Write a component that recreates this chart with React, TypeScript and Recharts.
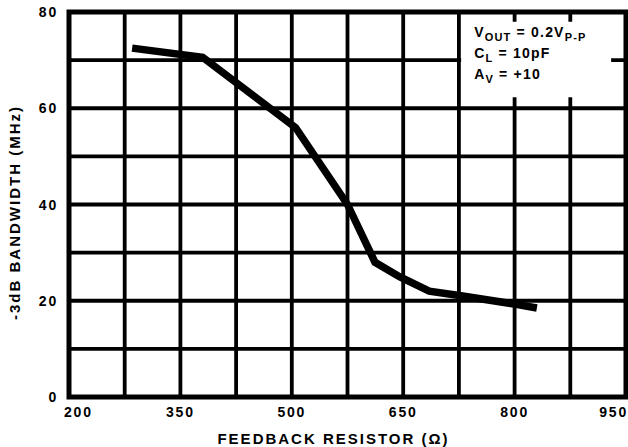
import React from 'react';
import {
  LineChart,
  Line,
  XAxis,
  YAxis,
  CartesianGrid,
  ReferenceArea,
} from 'recharts';

// Feedback resistor (Ω) vs -3dB bandwidth (MHz)
const resistance = [285, 380, 505, 575, 612, 645, 685, 730, 800, 830];
const bandwidth = [72.5, 70.6, 56, 40, 28, 25, 22, 21, 19.3, 18.5];

const xGridTicks = [200, 275, 350, 425, 500, 575, 650, 725, 800, 875, 950];
const xLabels = [200, 350, 500, 650, 800, 950];
const yGridTicks = [0, 10, 20, 30, 40, 50, 60, 70, 80];
const yLabels = [0, 20, 40, 60, 80];

const data = resistance.map((r, i) => ({ r, bw: bandwidth[i] }));

const FONT = '"Liberation Sans", Arial, Helvetica, sans-serif';

const XTick = (props: any) => {
  const { x, y, payload } = props;
  const v = payload.value;
  if (!xLabels.includes(v)) return null;
  let anchor: 'start' | 'middle' | 'end' = 'middle';
  let dx = 0;
  if (v === xLabels[0]) {
    anchor = 'start';
    dx = -5;
  } else if (v === xLabels[xLabels.length - 1]) {
    anchor = 'end';
    dx = 2;
  }
  return (
    <text
      x={x + dx}
      y={y}
      dy={12}
      textAnchor={anchor}
      fontFamily={FONT}
      fontWeight="bold"
      fontSize={14}
      letterSpacing={1.8}
      fill="#000"
    >
      {v}
    </text>
  );
};

const YTick = (props: any) => {
  const { x, y, payload } = props;
  const v = payload.value;
  if (!yLabels.includes(v)) return null;
  return (
    <text
      x={x - 3}
      y={y}
      dy={5}
      textAnchor="end"
      fontFamily={FONT}
      fontWeight="bold"
      fontSize={14}
      letterSpacing={1.8}
      fill="#000"
    >
      {v}
    </text>
  );
};

const XTitle = (props: any) => {
  const { viewBox } = props;
  const cx = viewBox.x + viewBox.width / 2 - 14;
  return (
    <text
      x={cx}
      y={444}
      textAnchor="middle"
      fontFamily={FONT}
      fontWeight="bold"
      fontSize={15}
      letterSpacing={2}
      fill="#000"
    >
      FEEDBACK RESISTOR (Ω)
    </text>
  );
};

const YTitle = (props: any) => {
  const { viewBox } = props;
  const cx = 20;
  const cy = viewBox.y + viewBox.height / 2 + 8;
  return (
    <text
      x={cx}
      y={cy}
      transform={`rotate(-90, ${cx}, ${cy})`}
      textAnchor="middle"
      fontFamily={FONT}
      fontWeight="bold"
      fontSize={15}
      letterSpacing={2}
      fill="#000"
    >
      -3dB BANDWIDTH (MHz)
    </text>
  );
};

const LegendText = (props: any) => {
  const { viewBox } = props;
  const x = viewBox.x + 13;
  const y = viewBox.y;
  const common = {
    fontFamily: FONT,
    fontWeight: 'bold' as const,
    fontSize: 14,
    letterSpacing: 1.2,
    fill: '#000',
  };
  return (
    <g>
      <text x={x} y={y + 15} {...common}>
        V
        <tspan fontSize={11} dy={4}>OUT</tspan>
        <tspan dy={-4}> = 0.2V</tspan>
        <tspan fontSize={11} dy={4}>P-P</tspan>
      </text>
      <text x={x} y={y + 36} {...common}>
        C
        <tspan fontSize={11} dy={4}>L</tspan>
        <tspan dy={-4}> = 10pF</tspan>
      </text>
      <text x={x} y={y + 57} {...common}>
        A
        <tspan fontSize={11} dy={4}>V</tspan>
        <tspan dy={-4}> = +10</tspan>
      </text>
    </g>
  );
};

export default function App() {
  return (
    <div style={{ position: 'absolute', left: 0, top: 0, background: '#fff' }}>
      <LineChart
        width={628}
        height={447}
        data={data}
        margin={{ top: 12, right: 2, bottom: 0, left: 0 }}
      >
        <CartesianGrid stroke="#000" strokeWidth={3.8} />
        <XAxis
          dataKey="r"
          type="number"
          domain={[200, 950]}
          ticks={xGridTicks}
          axisLine={false}
          tickLine={false}
          height={50}
          tick={<XTick />}
          interval={0}
          label={<XTitle />}
        />
        <YAxis
          type="number"
          domain={[0, 80]}
          ticks={yGridTicks}
          axisLine={false}
          tickLine={false}
          width={69}
          tick={<YTick />}
          interval={0}
          label={<YTitle />}
        />
        <ReferenceArea
          x1={728}
          x2={930}
          y1={62.3}
          y2={78}
          fill="#fff"
          fillOpacity={1}
          stroke="none"
          label={<LegendText />}
        />
        <ReferenceArea
          x1={200}
          x2={950}
          y1={0}
          y2={80}
          fill="none"
          fillOpacity={0}
          stroke="#000"
          strokeWidth={5}
        />
        <Line
          type="linear"
          dataKey="bw"
          stroke="#000"
          strokeWidth={7.5}
          dot={false}
          isAnimationActive={false}
          strokeLinejoin="miter"
        />
      </LineChart>
    </div>
  );
}
